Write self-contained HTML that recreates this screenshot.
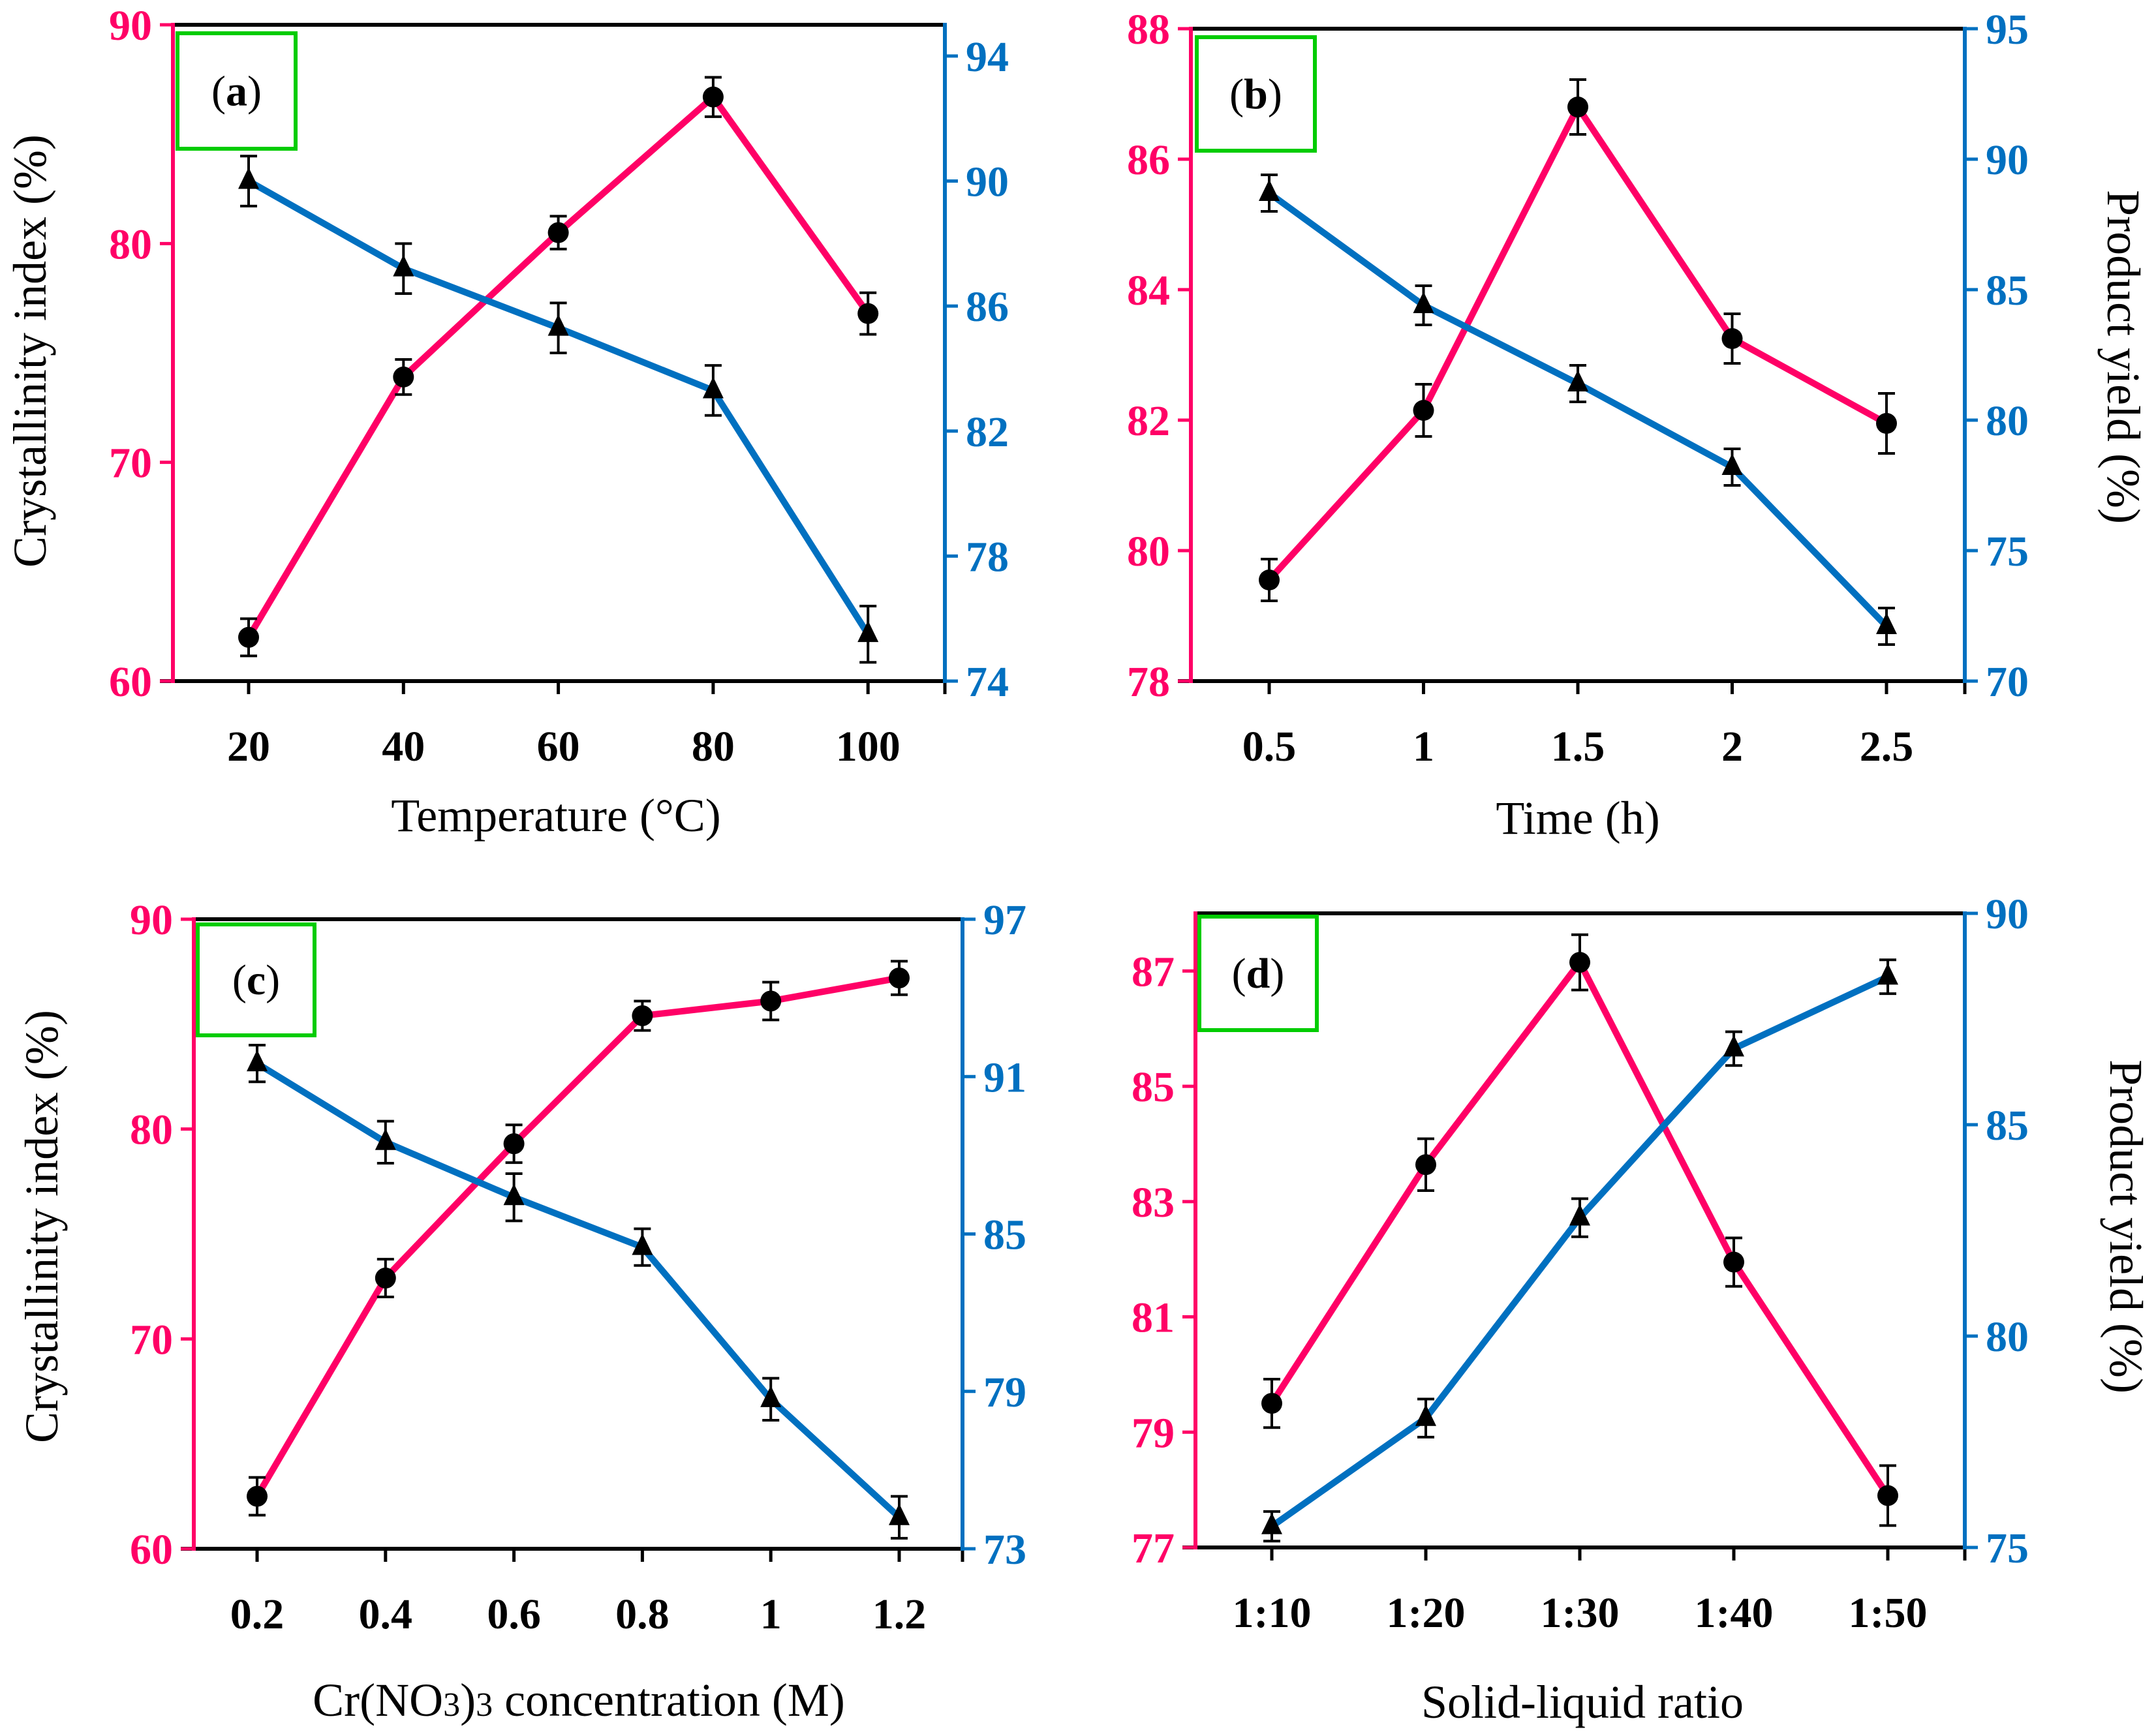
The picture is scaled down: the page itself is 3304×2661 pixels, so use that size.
<!DOCTYPE html>
<html><head><meta charset="utf-8">
<style>
html,body{margin:0;padding:0;background:#fff;}
svg{display:block;}
text{font-family:"Liberation Serif",serif;}
</style></head>
<body>
<svg id="chart" width="3304" height="2661" viewBox="0 0 3304 2661" xmlns="http://www.w3.org/2000/svg"></svg>
<script>
// ---- Panel (a) data ----
const catsA = ["20","40","60","80","100"];
const ciA = [62.0, 73.9, 80.5, 86.7, 76.8];
const ciErrA = [0.85, 0.8, 0.75, 0.9, 0.95];
const yieldA = [90.0, 87.2, 85.3, 83.3, 75.5];
const yieldErrA = [0.8, 0.8, 0.8, 0.8, 0.9];
const leftTicksA = [60, 70, 80, 90];
const rightTicksA = [74, 78, 82, 86, 90, 94];
// ---- Panel (b) data ----
const catsB = ["0.5","1","1.5","2","2.5"];
const ciB = [79.55, 82.15, 86.8, 83.25, 81.95];
const ciErrB = [0.32, 0.4, 0.42, 0.38, 0.46];
const yieldB = [88.7, 84.4, 81.4, 78.2, 72.1];
const yieldErrB = [0.7, 0.75, 0.7, 0.7, 0.7];
const leftTicksB = [78, 80, 82, 84, 86, 88];
const rightTicksB = [70, 75, 80, 85, 90, 95];
// ---- Panel (c) data ----
const catsC = ["0.2","0.4","0.6","0.8","1","1.2"];
const ciC = [62.5, 72.9, 79.3, 85.4, 86.1, 87.2];
const ciErrC = [0.9, 0.9, 0.9, 0.7, 0.9, 0.8];
const yieldC = [91.5, 88.5, 86.4, 84.5, 78.7, 74.2];
const yieldErrC = [0.7, 0.8, 0.9, 0.7, 0.8, 0.8];
const leftTicksC = [60, 70, 80, 90];
const rightTicksC = [73, 79, 85, 91, 97];
// ---- Panel (d) data ----
const catsD = ["1:10","1:20","1:30","1:40","1:50"];
const ciD = [79.5, 83.64, 87.15, 81.95, 77.9];
const ciErrD = [0.42, 0.45, 0.48, 0.42, 0.52];
const yieldD = [75.5, 78.06, 82.8, 86.8, 88.5];
const yieldErrD = [0.35, 0.45, 0.45, 0.4, 0.4];
const leftTicksD = [77, 79, 81, 83, 85, 87];
const rightTicksD = [75, 80, 85, 90];

const NS = "http://www.w3.org/2000/svg";
const svg = document.getElementById("chart");
const PINK = "#ff0066", BLUE = "#0070c0";
const TICKFS = 66, TITLEFS = 72;
function mk(tag, attrs, parent) {
  const e = document.createElementNS(NS, tag);
  for (const k in attrs) e.setAttribute(k, attrs[k]);
  (parent || svg).appendChild(e);
  return e;
}

function panel(p) {
  const g = mk("g", {});
  
  
  const yL = v => p.bottom - (v - p.lmin) / (p.lmax - p.lmin) * (p.bottom - p.top);
  const yR = v => p.bottom - (v - p.rmin) / (p.rmax - p.rmin) * (p.bottom - p.top);
  const xC = i => p.x0 + i * p.dx;

  const top = mk("line", {x1:p.left, y1:p.top, x2:p.right, y2:p.top, stroke:"#000", "stroke-width":6}, g);
  
  
  const xa = mk("line", {x1:p.left-20, y1:p.bottom, x2:p.right, y2:p.bottom, stroke:"#000", "stroke-width":6}, g);
  
  
  p.cats.forEach((c, i) => {
    const t = mk("line", {x1:xC(i), y1:p.bottom, x2:xC(i), y2:p.bottom+20, stroke:"#000", "stroke-width":5}, g);
    
    
    const tl = mk("text", {x:xC(i), y:p.bottom+122, "text-anchor":"middle", "font-size":TICKFS, "font-weight":"bold", fill:"#000"}, g);
    tl.textContent = c;
    
    
  });
  const te = mk("line", {x1:p.right, y1:p.bottom, x2:p.right, y2:p.bottom+20, stroke:"#000", "stroke-width":5}, g);
  
  
  const la = mk("line", {x1:p.left, y1:p.top-3, x2:p.left, y2:p.bottom+3, stroke:PINK, "stroke-width":6}, g);
  
  
  p.lt.forEach(v => {
    const t = mk("line", {x1:p.left-20, y1:yL(v), x2:p.left, y2:yL(v), stroke:PINK, "stroke-width":5}, g);
    
    
    const tl = mk("text", {x:p.left-32, y:yL(v)+23, "text-anchor":"end", "font-size":TICKFS, "font-weight":"bold", fill:PINK}, g);
    tl.textContent = v;
    
    
  });
  const ra = mk("line", {x1:p.right, y1:p.top-3, x2:p.right, y2:p.bottom+3, stroke:BLUE, "stroke-width":6}, g);
  
  
  p.rt.forEach(v => {
    const t = mk("line", {x1:p.right, y1:yR(v), x2:p.right+20, y2:yR(v), stroke:BLUE, "stroke-width":5}, g);
    
    
    const tl = mk("text", {x:p.right+32, y:yR(v)+23, "text-anchor":"start", "font-size":TICKFS, "font-weight":"bold", fill:BLUE}, g);
    tl.textContent = v;
    
    
  });
  const gb = mk("rect", {x:p.box[0], y:p.box[1], width:p.box[2], height:p.box[3], fill:"none", stroke:"#00cc00", "stroke-width":6}, g);
  
  
  const lb = mk("text", {x:p.box[0]+p.box[2]/2, y:p.box[1]+p.box[3]/2+22, "text-anchor":"middle", "font-size":66, fill:"#000"}, g);
  lb.innerHTML = '(<tspan font-weight="bold">' + p.id + '</tspan>)';
  
  

  function series(vals, errs, yf, color, marker, name) {
    const pts = vals.map((v, i) => xC(i) + "," + yf(v)).join(" ");
    const pl = mk("polyline", {points:pts, fill:"none", stroke:color, "stroke-width":10, "stroke-linejoin":"round"}, g);
    
    
    vals.forEach((v, i) => {
      const x = xC(i), y = yf(v), yt = yf(v + errs[i]), yb = yf(v - errs[i]);
      const eb = mk("path", {d:`M${x},${yt}V${yb}M${x-13},${yt}H${x+13}M${x-13},${yb}H${x+13}`, stroke:"#000", "stroke-width":4, fill:"none"}, g);
      
      
      let m;
      if (marker === "circle") {
        m = mk("circle", {cx:x, cy:y, r:16, fill:"#000"}, g);
      } else {
        m = mk("polygon", {points:`${x},${y-21} ${x-16},${y+12} ${x+16},${y+12}`, fill:"#000"}, g);
      }
      
      
    });
  }
  series(p.ci, p.ciErr, yL, PINK, "circle", "crystallinity");
  series(p.yd, p.ydErr, yR, BLUE, "triangle", "yield");

  const xt = mk("text", {x:p.xtx, y:p.xty, "text-anchor":"middle", "font-size":TITLEFS, fill:"#000"}, g);
  xt.innerHTML = p.xtitle;
  
  
  if (p.ltitle) {
    const yt = mk("text", {x:0, y:0, "text-anchor":"middle", "font-size":TITLEFS, fill:"#000", transform:`translate(${p.ltitle[0]},${p.ltitle[1]}) rotate(-90)`}, g);
    yt.textContent = "Crystallinity index (%)";
    
    
  }
  if (p.rtitle) {
    const yt = mk("text", {x:0, y:0, "text-anchor":"middle", "font-size":TITLEFS, fill:"#000", transform:`translate(${p.rtitle[0]},${p.rtitle[1]}) rotate(90)`}, g);
    yt.textContent = "Product yield (%)";
    
    
  }
}

panel({id:"a", left:265, right:1448, top:38, bottom:1044, x0:381, dx:237.3,
  lmin:60, lmax:90, rmin:74, rmax:95, cats:catsA, ci:ciA, ciErr:ciErrA, yd:yieldA, ydErr:yieldErrA,
  lt:leftTicksA, rt:rightTicksA, box:[272,51,181,177], xtitle:"Temperature (°C)", xtx:852, xty:1274, ltitle:[70,538]});
panel({id:"b", left:1825, right:3011, top:44, bottom:1044, x0:1945, dx:236.5,
  lmin:78, lmax:88, rmin:70, rmax:95, cats:catsB, ci:ciB, ciErr:ciErrB, yd:yieldB, ydErr:yieldErrB,
  lt:leftTicksB, rt:rightTicksB, box:[1834,57,181,174], xtitle:"Time (h)", xtx:2418, xty:1278, rtitle:[3230,547]});
panel({id:"c", left:297, right:1475, top:1409, bottom:2374, x0:394, dx:196.8,
  lmin:60, lmax:90, rmin:73, rmax:97, cats:catsC, ci:ciC, ciErr:ciErrC, yd:yieldC, ydErr:yieldErrC,
  lt:leftTicksC, rt:rightTicksC, box:[303,1417,179,170], xtitle:'Cr(NO<tspan font-size="52">3</tspan>)<tspan font-size="52">3</tspan> concentration (M)', xtx:887, xty:2630, ltitle:[88,1880]});
panel({id:"d", left:1832, right:3011, top:1400, bottom:2372, x0:1949, dx:236,
  lmin:77, lmax:88, rmin:75, rmax:90, cats:catsD, ci:ciD, ciErr:ciErrD, yd:yieldD, ydErr:yieldErrD,
  lt:leftTicksD, rt:rightTicksD, box:[1838,1405,180,174], xtitle:"Solid-liquid ratio", xtx:2425, xty:2633, rtitle:[3234,1880]});
</script>
</body></html>
